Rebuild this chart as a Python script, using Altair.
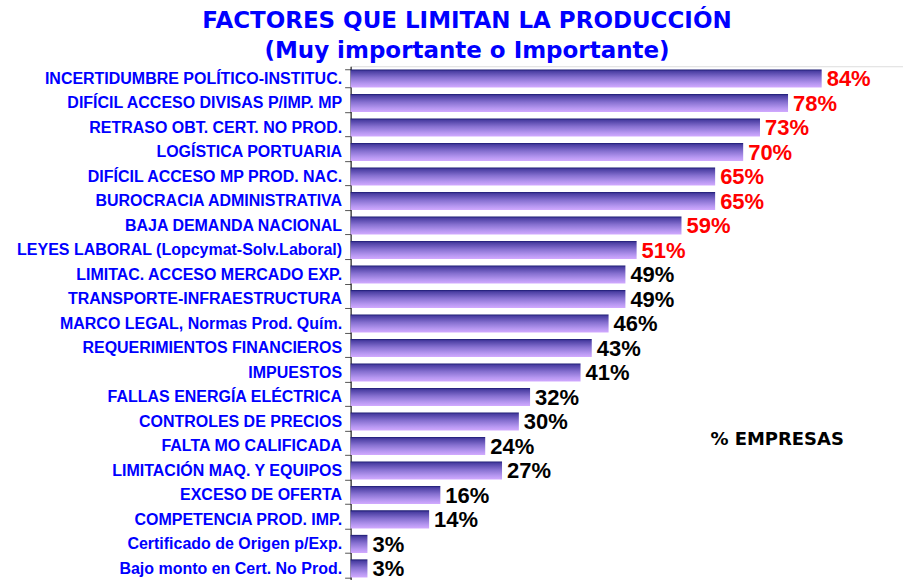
import altair as alt
import pandas as pd

categories = [
    "INCERTIDUMBRE POLÍTICO-INSTITUC.",
    "DIFÍCIL ACCESO DIVISAS P/IMP. MP",
    "RETRASO OBT. CERT. NO PROD.",
    "LOGÍSTICA PORTUARIA",
    "DIFÍCIL ACCESO MP PROD. NAC.",
    "BUROCRACIA ADMINISTRATIVA",
    "BAJA DEMANDA NACIONAL",
    "LEYES LABORAL (Lopcymat-Solv.Laboral)",
    "LIMITAC. ACCESO MERCADO EXP.",
    "TRANSPORTE-INFRAESTRUCTURA",
    "MARCO LEGAL, Normas Prod. Quím.",
    "REQUERIMIENTOS FINANCIEROS",
    "IMPUESTOS",
    "FALLAS ENERGÍA ELÉCTRICA",
    "CONTROLES DE PRECIOS",
    "FALTA MO CALIFICADA",
    "LIMITACIÓN MAQ. Y EQUIPOS",
    "EXCESO DE OFERTA",
    "COMPETENCIA PROD. IMP.",
    "Certificado de Origen p/Exp.",
    "Bajo monto en Cert. No Prod.",
]
values = [84, 78, 73, 70, 65, 65, 59, 51, 49, 49, 46, 43, 41, 32, 30, 24, 27, 16, 14, 3, 3]

df = pd.DataFrame({"factor": categories, "value": values})

y_enc = alt.Y(
    "factor:N",
    sort=categories,
    title=None,
    scale=alt.Scale(paddingInner=0.26, paddingOuter=0.13),
    axis=alt.Axis(
        labelFont="Liberation Sans",
        labelFontWeight="bold",
        labelFontSize=16,
        labelColor="#0000ff",
        labelPadding=3,
        labelLimit=0,
        tickBand="extent",
        tickSize=6,
        tickColor="#555555",
        domainColor="#000000",
        domainWidth=1,
        grid=False,
    ),
)
x_enc = alt.X("value:Q", axis=None, scale=alt.Scale(domain=[0, 98.5]))

bars = alt.Chart(df).mark_bar(
    color=alt.Gradient(
        gradient="linear",
        x1=0, y1=0, x2=0, y2=1,
        stops=[
            alt.GradientStop(color="#18186e", offset=0),
            alt.GradientStop(color="#4a3ea2", offset=0.1),
            alt.GradientStop(color="#8670d0", offset=0.45),
            alt.GradientStop(color="#b596f0", offset=0.78),
            alt.GradientStop(color="#d2aaff", offset=1),
        ],
    )
).encode(x=x_enc, y=y_enc)

labels = alt.Chart(df).transform_calculate(
    label="datum.value + '%'"
).mark_text(
    align="left", baseline="middle", dx=5, dy=1,
    font="Liberation Sans", fontWeight="bold", fontSize=22,
).encode(
    x=x_enc,
    y=alt.Y("factor:N", sort=categories),
    text="label:N",
    color=alt.condition(alt.datum.value > 50, alt.value("#ff0000"), alt.value("#000000")),
)

note = alt.Chart(pd.DataFrame({"t": ["% EMPRESAS"]})).mark_text(
    align="center", baseline="middle",
    font="DejaVu Sans", fontWeight="bold", fontSize=18, color="#000000",
).encode(x=alt.value(427), y=alt.value(374), text="t:N")

chart = alt.layer(bars, labels, note).properties(
    width=553,
    height=515,
    title=alt.Title(
        ["FACTORES QUE LIMITAN LA PRODUCCIÓN", "(Muy importante o Importante)"],
        font="DejaVu Sans",
        fontSize=23,
        fontWeight="bold",
        color="#0000ff",
        anchor="middle",
        frame="group",
        dx=-160,
        dy=11,
        lineHeight=30,
        offset=6,
    ),
    autosize="none",
    padding={"left": 351, "top": 66, "right": 0, "bottom": 0},
).configure_view(
    fill="#ffff00", stroke="#999999", strokeWidth=1
).configure(background="#ffffff")

chart.save("out.html", embed_options={"renderer": "svg", "actions": False})
